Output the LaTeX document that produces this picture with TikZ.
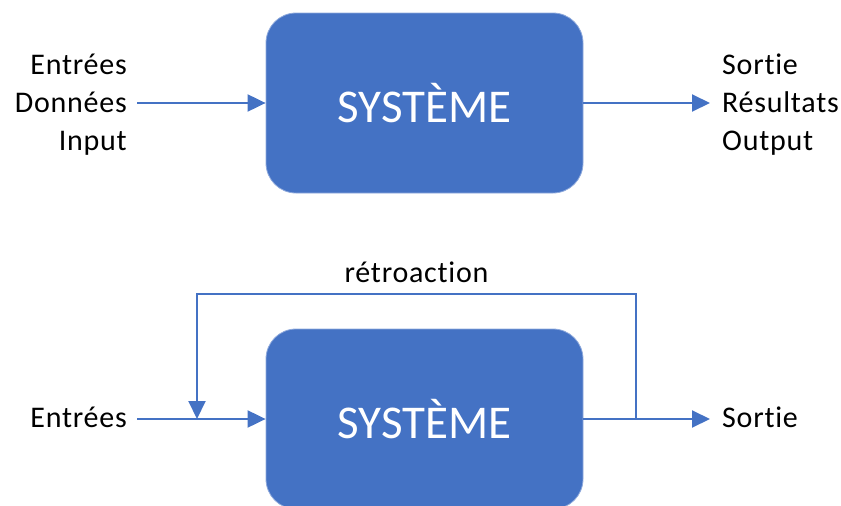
\documentclass[tikz,border=0pt]{standalone}
\usepackage{fontspec}
\setmainfont{Carlito}[Ligatures=NoCommon]
\newfontfamily\etiq{Carlito}[Ligatures=NoCommon, LetterSpace=2.5]
\usepackage{xcolor}
\usepackage{tikz}
\usetikzlibrary{arrows.meta, positioning}

\definecolor{bleu}{HTML}{4472C4}

\begin{document}
\begin{tikzpicture}[x=1pt, y=-1pt,
  systeme/.style={fill=bleu, draw=bleu!60!white, line width=0.8pt,
    rounded corners=30pt, minimum width=317pt, minimum height=180pt,
    text=white, font=\fontsize{47}{56}\selectfont},
  etiquette/.style={inner sep=0pt, font=\etiq\fontsize{30}{38}\selectfont},
  fleche/.style={draw=bleu, line width=2pt, -{Triangle[length=18pt, width=17pt]}}]

\useasboundingbox (0,0) rectangle (841,506);

% Système sans rétroaction
\node[systeme] (S1) at (424.5,103) {SYSTÈME};

\node[etiquette, align=right, anchor=east] (E1) at (127,105)
  {Entrées\\Données\\Input};
\node[etiquette, align=left, anchor=west] (O1) at (722,105)
  {Sortie\\Résultats\\Output};

\coordinate (e1) at (137,103);
\coordinate (o1) at (710,103);
\draw[fleche] (e1) -- (S1.west |- e1);
\draw[fleche] (S1.east |- e1) -- (o1);

% Système avec rétroaction
\node[systeme] (S2) at (424.5,419) {SYSTÈME};

\node[etiquette, anchor=base east] (E2) at (127,427) {Entrées};
\node[etiquette, anchor=base west] (O2) at (722,427) {Sortie};

\coordinate (e2) at (137,419);
\coordinate (o2) at (710,419);
\coordinate (m2) at (197,419);
\coordinate (b2) at (636,419);
\draw[fleche] (e2) -- (S2.west |- e2);
\draw[fleche] (S2.east |- e2) -- (o2);

% boucle
\draw[fleche] (b2) -- (636,294) -- node[etiquette, above=10pt] (R) {rétroaction} (197,294) -- (m2);

\end{tikzpicture}
\end{document}
